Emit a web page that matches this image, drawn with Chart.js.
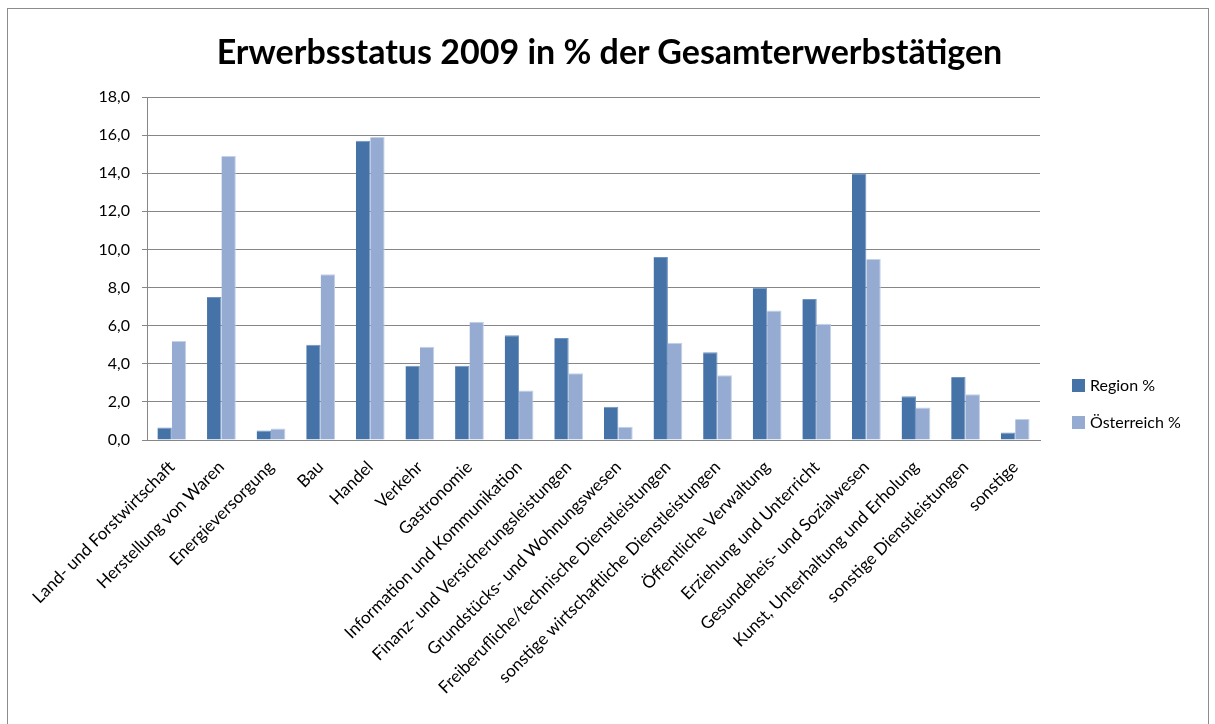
<!DOCTYPE html>
<html>
<head>
<meta charset="utf-8">
<script src="https://cdn.jsdelivr.net/npm/chart.js@4"></script>
<style>
  body { margin: 0; background: #fff; }
  #wrap { position: relative; width: 1215px; height: 724px; overflow: hidden; }
  #frame { position: absolute; left: 7px; top: 8px; width: 1200px; height: 800px; border: 1px solid #8c8c8c; }
  #chart { position: absolute; left: 0; top: 0; }
  #title { position: absolute; left: 0; width: 1219px; top: 34px; text-align: center;
           font-family: Lato, sans-serif; font-weight: bold; font-size: 34px; line-height: 34px; color: #000; }
  .legend { position: absolute; left: 1072px; font-family: Lato, sans-serif; font-size: 16px; line-height: 16px; color: #000; }
  .legend span.box { display: inline-block; width: 13px; height: 13px; vertical-align: -1px; margin-right: 5px; }
</style>
</head>
<body>
<div id="wrap">
  <div id="frame"></div>
  <canvas id="chart" width="1215" height="724"></canvas>
  <div id="title">Erwerbsstatus 2009 in % der Gesamterwerbstätigen</div>
  <div class="legend" style="top:377px"><span class="box" style="background:#4673a7"></span>Region %</div>
  <div class="legend" style="top:414px"><span class="box" style="background:#95abd2"></span>Österreich %</div>
</div>
<script>
const categories = [
  'Land- und Forstwirtschaft',
  'Herstellung von Waren',
  'Energieversorgung',
  'Bau',
  'Handel',
  'Verkehr',
  'Gastronomie',
  'Information und Kommunikation',
  'Finanz- und Versicherungsleistungen',
  'Grundstücks- und Wohnungswesen',
  'Freiberufliche/technische Dienstleistungen',
  'sonstige wirtschaftliche Dienstleistungen',
  'Öffentliche Verwaltung',
  'Erziehung und Unterricht',
  'Gesundeheis- und Sozialwesen',
  'Kunst, Unterhaltung und Erholung',
  'sonstige Dienstleistungen',
  'sonstige'
];
const regionValues = [0.65, 7.5, 0.5, 5.0, 15.7, 3.9, 3.9, 5.5, 5.35, 1.75, 9.6, 4.6, 8.0, 7.4, 14.0, 2.3, 3.3, 0.4];
const austriaValues = [5.2, 14.9, 0.6, 8.7, 15.9, 4.9, 6.2, 2.6, 3.5, 0.7, 5.1, 3.4, 6.8, 6.1, 9.5, 1.7, 2.4, 1.1];
const yTicks = [0, 2, 4, 6, 8, 10, 12, 14, 16, 18];

const fmt = v => v.toFixed(1).replace('.', ',');

new Chart(document.getElementById('chart').getContext('2d'), {
  type: 'bar',
  data: {
    labels: categories,
    datasets: [
      { label: 'Region %', data: regionValues, backgroundColor: '#4673a7', borderColor: '#6f93c2', borderWidth: { top: 1, left: 0, right: 1, bottom: 0 } },
      { label: 'Österreich %', data: austriaValues, backgroundColor: '#95abd2', borderColor: '#c3d1e8', borderWidth: { top: 1, left: 0, right: 1, bottom: 0 } }
    ]
  },
  options: {
    responsive: false,
    animation: false,
    layout: { padding: { left: 0, right: 175, top: 97, bottom: 0 } },
    plugins: {
      legend: { display: false },
      tooltip: { enabled: false },
      title: { display: false }
    },
    datasets: { bar: { categoryPercentage: 0.58, barPercentage: 1.0 } },
    scales: {
      x: {
        grid: { display: false },
        border: { display: true, color: '#868686' },
        ticks: {
          color: '#000',
          font: { family: 'Lato', size: 17 },
          minRotation: 45,
          maxRotation: 45,
          autoSkip: false,
          padding: 9
        },
        afterFit: s => { s.height = 284; }
      },
      y: {
        min: 0,
        max: 18,
        afterBuildTicks: s => { s.ticks = yTicks.map(v => ({ value: v })); },
        grid: { color: '#868686', tickLength: 5 },
        border: { display: true, color: '#868686' },
        ticks: {
          color: '#000',
          font: { family: 'Lato', size: 16 },
          padding: 12,
          callback: v => fmt(v)
        },
        afterFit: s => { s.width = 147; }
      }
    }
  }
});
</script>
</body>
</html>
